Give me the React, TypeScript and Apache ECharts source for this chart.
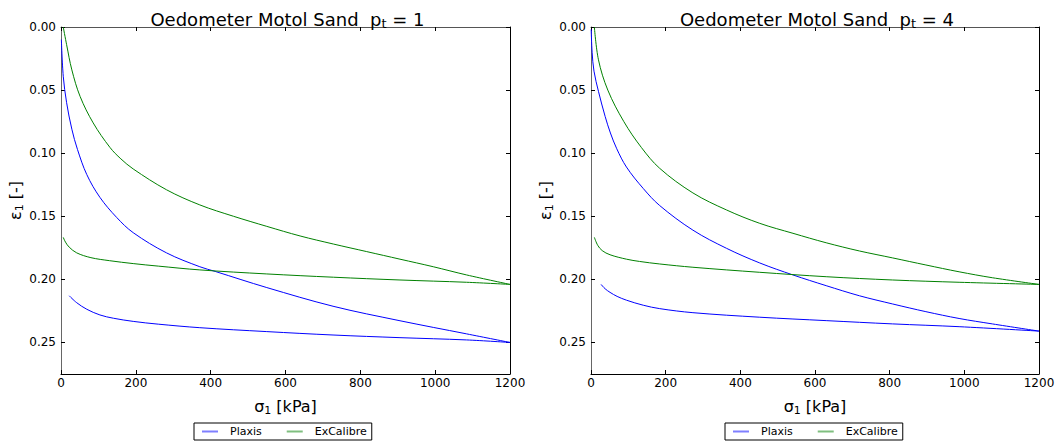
import React, { useEffect, useRef } from "react";
import * as echarts from "echarts";

const FONT = "DejaVu Sans";

// tick labels
const xTickValues = [0, 200, 400, 600, 800, 1000, 1200];
const yTickValues = [0, 0.05, 0.1, 0.15, 0.2, 0.25];
const panelPt = ["1", "4"];
const seriesNames = ["Plaxis", "ExCalibre"];

// panel p_t = 1  ([sigma_1 kPa, eps_1])
const plaxisLoad1 = [[1, 0.01], [6, 0.039], [15, 0.06], [29, 0.081], [44, 0.097], [69, 0.117], [104, 0.135], [149, 0.151], [193, 0.163], [282, 0.179], [371, 0.19], [412, 0.1937], [550, 0.2065], [727, 0.2213], [906, 0.2328], [1084, 0.2432], [1200, 0.25]];
const plaxisUnload1 = [[1200, 0.25], [1084, 0.248], [906, 0.2462], [727, 0.2441], [550, 0.2414], [371, 0.2383], [260, 0.2355], [193, 0.2333], [140, 0.2308], [104, 0.2282], [69, 0.2237], [42, 0.2185], [22, 0.213]];
const excalLoad1 = [[6, 0.0], [15, 0.014], [29, 0.034], [51, 0.055], [86, 0.076], [131, 0.0955], [160, 0.1045], [193, 0.1125], [282, 0.129], [371, 0.141], [461, 0.15], [550, 0.158], [639, 0.1656], [728, 0.172], [817, 0.178], [906, 0.184], [995, 0.19], [1084, 0.1965], [1200, 0.204]];
const excalUnload1 = [[1200, 0.204], [1084, 0.2023], [906, 0.2005], [728, 0.1983], [550, 0.1957], [371, 0.1925], [260, 0.1895], [193, 0.1875], [130, 0.1852], [80, 0.1828], [42, 0.179], [22, 0.1745], [12, 0.1705], [6, 0.1667]];

// panel p_t = 4
const plaxisLoad4 = [[0.5, 0.002], [3, 0.02], [8, 0.035], [20, 0.051], [38, 0.071], [52, 0.084], [69, 0.0965], [95, 0.111], [140, 0.128], [184, 0.1415], [273, 0.161], [363, 0.1754], [452, 0.187], [541, 0.1965], [630, 0.205], [719, 0.213], [808, 0.2195], [897, 0.2256], [986, 0.231], [1075, 0.2353], [1200, 0.241]];
const plaxisUnload4 = [[1200, 0.241], [986, 0.2375], [808, 0.2353], [630, 0.2327], [452, 0.23], [273, 0.2264], [184, 0.2232], [140, 0.2205], [95, 0.2165], [70, 0.2135], [51, 0.2103], [38, 0.2075], [27, 0.204]];
const excalLoad4 = [[9, 0.0], [20, 0.026], [45, 0.05], [88, 0.075], [135, 0.0955], [184, 0.112], [273, 0.1315], [363, 0.145], [452, 0.1556], [541, 0.1635], [630, 0.171], [719, 0.1775], [808, 0.183], [897, 0.1886], [986, 0.194], [1075, 0.1987], [1200, 0.204]];
const excalUnload4 = [[1200, 0.204], [986, 0.2023], [808, 0.2005], [630, 0.1979], [452, 0.1944], [273, 0.1904], [184, 0.1878], [130, 0.1858], [95, 0.184], [51, 0.1805], [30, 0.1772], [18, 0.173], [9, 0.1667]];

const panels = [
  { plaxis: [plaxisLoad1, plaxisUnload1], excal: [excalLoad1, excalUnload1] },
  { plaxis: [plaxisLoad4, plaxisUnload4], excal: [excalLoad4, excalUnload4] },
];

const BLUE = "#0000ff";
const GREEN = "#008000";

const gridLefts = [61, 591];
const gridWidths = [449, 448];
const legendLefts = [194, 725];

const nameRich = {
  m: { fontSize: 16, fontFamily: FONT, fontWeight: "normal", color: "#000", lineHeight: 20 },
  s: { fontSize: 11, fontFamily: FONT, fontWeight: "normal", color: "#000", lineHeight: 12, padding: [8, 0, 0, 0] },
};

function buildOption() {
  const grid: any[] = [];
  const xAxis: any[] = [];
  const yAxis: any[] = [];
  const series: any[] = [];
  const title: any[] = [];
  const legend: any[] = [];

  panels.forEach((p, g) => {
    grid.push({ left: gridLefts[g], top: 27, width: gridWidths[g], height: 347, outerBoundsMode: "none" });
    const tick = { show: true, inside: true, length: 4, lineStyle: { color: "#000", width: 1 } };
    xAxis.push({
      type: "value", gridIndex: g, position: "bottom", min: 0, max: 1200, interval: 200,
      axisLine: { show: true, onZero: false, lineStyle: { color: "#000", width: 1 } },
      axisTick: { ...tick, customValues: xTickValues },
      axisLabel: {
        margin: 3, fontSize: 12, color: "#000", fontFamily: FONT, customValues: xTickValues,
        formatter: (v: number) => String(Math.round(v)),
      },
      splitLine: { show: false },
      name: "{m|σ}{s|1}{m| [kPa]}", nameLocation: "middle", nameGap: 22,
      nameTextStyle: { rich: nameRich },
    });
    xAxis.push({
      type: "value", gridIndex: g, position: "top", min: 0, max: 1200, interval: 200,
      axisLine: { show: true, onZero: false, lineStyle: { color: "#555", width: 1 } },
      axisTick: { ...tick, customValues: xTickValues },
      axisLabel: { show: false }, splitLine: { show: false },
    });
    yAxis.push({
      type: "value", gridIndex: g, position: "left", inverse: true, min: 0, max: 0.275, interval: 0.05,
      axisLine: { show: true, onZero: false, lineStyle: { color: "#666", width: 1 } },
      axisTick: { ...tick, customValues: yTickValues },
      axisLabel: {
        margin: 5, fontSize: 12, color: "#000", fontFamily: FONT, customValues: yTickValues,
        formatter: (v: number) => {
          const k = v / 0.05;
          return Math.abs(k - Math.round(k)) < 1e-6 ? v.toFixed(2) : "";
        },
      },
      splitLine: { show: false },
      name: "{m|ε}{s|1}{m| [-]}", nameLocation: "middle", nameGap: 31, nameRotate: 90,
      nameTextStyle: { rich: nameRich },
    });
    yAxis.push({
      type: "value", gridIndex: g, position: "right", inverse: true, min: 0, max: 0.275, interval: 0.05,
      axisLine: { show: true, onZero: false, lineStyle: { color: "#000", width: 1 } },
      axisTick: { ...tick, customValues: yTickValues },
      axisLabel: { show: false }, splitLine: { show: false },
    });

    const branches: [string, string, number[][][]][] = [
      [seriesNames[0], BLUE, p.plaxis],
      [seriesNames[1], GREEN, p.excal],
    ];
    branches.forEach(([name, color, arrs]) => {
      arrs.forEach((data) => {
        series.push({
          type: "line", name, data, xAxisIndex: g * 2, yAxisIndex: g * 2,
          showSymbol: false, symbol: "none", smooth: 0.35,
          lineStyle: { color, width: 1 }, itemStyle: { color },
          emphasis: { disabled: true }, clip: true,
        });
      });
    });

    title.push({
      text: "{m|Oedometer Motol Sand  p}{s|t}{m| = " + panelPt[g] + "}",
      left: gridLefts[g] + gridWidths[g] / 2 - 3, top: 3, textAlign: "center",
      textStyle: {
        fontWeight: "normal",
        rich: {
          m: { fontSize: 18, fontFamily: FONT, fontWeight: "normal", color: "#000", lineHeight: 22 },
          s: { fontSize: 13, fontFamily: FONT, fontWeight: "normal", color: "#000", lineHeight: 13, padding: [9, 0, 0, 0] },
        },
      },
    });

    legend.push({
      data: seriesNames.map((n) => ({ name: n, icon: "rect" })),
      left: legendLefts[g], top: 423,
      orient: "horizontal",
      itemWidth: 16, itemHeight: 2, itemGap: 25,
      padding: [3, 5, 3, 8],
      borderColor: "#000", borderWidth: 1, borderRadius: 0,
      backgroundColor: "#fff",
      selectedMode: false,
      itemStyle: { opacity: 0.5, borderWidth: 0 },
      textStyle: { fontSize: 11, fontFamily: FONT, color: "#000", padding: [0, 0, 0, 7] },
    });
  });

  return { animation: false, backgroundColor: "#fff", grid, xAxis, yAxis, series, title, legend };
}

export default function App() {
  const ref = useRef<HTMLDivElement>(null);
  useEffect(() => {
    if (!ref.current) return;
    const chart = echarts.init(ref.current, null, { renderer: "svg" });
    chart.setOption(buildOption() as any);
    return () => chart.dispose();
  }, []);
  return (
    <div
      ref={ref}
      style={{ position: "fixed", left: 0, top: 0, width: 1056, height: 445, background: "#fff" }}
    />
  );
}
